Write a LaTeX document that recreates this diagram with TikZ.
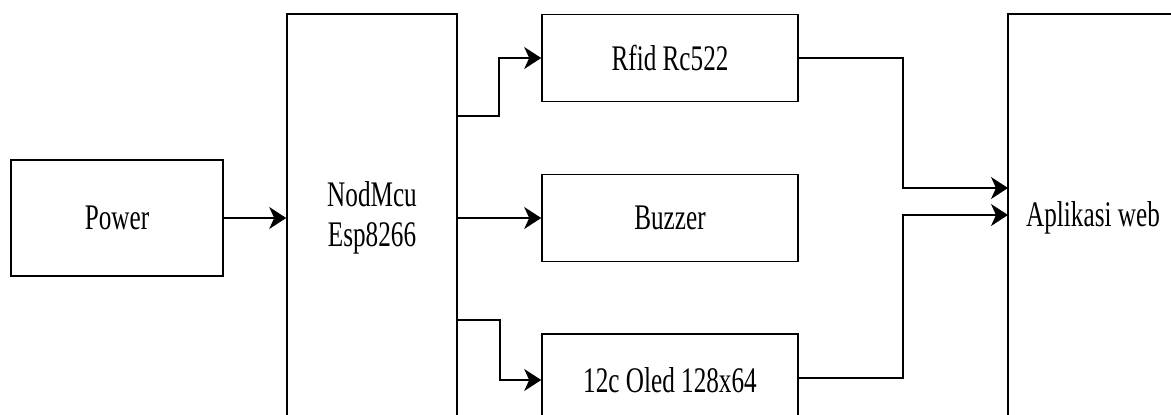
\documentclass[tikz,border=0pt]{standalone}
\usepackage{fontspec}
\usepackage{graphicx}
\newfontfamily\tnr{Liberation Serif}
\newcommand{\Tn}[1]{\scalebox{0.7}[1]{#1}}
\usetikzlibrary{arrows.meta}
\begin{document}
\begin{tikzpicture}[x=1pt,y=-1pt,
  blk/.style={draw=black,line width=1.6pt,fill=white,inner sep=0pt,align=center,
    font=\tnr\fontsize{36}{40}\selectfont},
  arr/.style={line width=1.6pt,-{Stealth[length=17pt,width=22pt,inset=5pt]}}]
\useasboundingbox (0,0) rectangle (1171,415);
\clip (0,0) rectangle (1171,415);
\node[blk,minimum width=212pt,minimum height=116pt] (power) at (117,218) {\Tn{Power}};
\node[blk,minimum width=170pt,minimum height=408pt] (nod) at (372,218) {\Tn{NodMcu}\\\Tn{Esp8266}};
\node[blk,minimum width=256pt,minimum height=87pt] (rfid) at (670,58) {\Tn{Rfid Rc522}};
\node[blk,minimum width=256pt,minimum height=87pt] (buzz) at (670,218) {\Tn{Buzzer}};
\node[blk,minimum width=256pt,minimum height=92pt] (oled) at (670,380) {\Tn{12c Oled 128x64}};
\node[blk,minimum width=170pt,minimum height=408pt] (app) at (1093,218) {\Tn{Aplikasi web}};
\coordinate (n1) at (457,116);
\coordinate (n3) at (457,320);
\coordinate (a1) at (1008,188);
\coordinate (a2) at (1008,215);
\draw[arr] (power.east) -- (power.east -| nod.west);
\draw[arr] (n1) -- ++(42,0) |- (rfid.west);
\draw[arr] (buzz.west -| nod.east) -- (buzz.west);
\draw[arr] (n3) -- ++(43,0) |- (oled.west);
\draw[arr] (rfid.east) -- (903,58) |- (a1);
\draw[arr] (oled.east |- 0,378) -| (903,215) -- (a2);
\end{tikzpicture}
\end{document}
